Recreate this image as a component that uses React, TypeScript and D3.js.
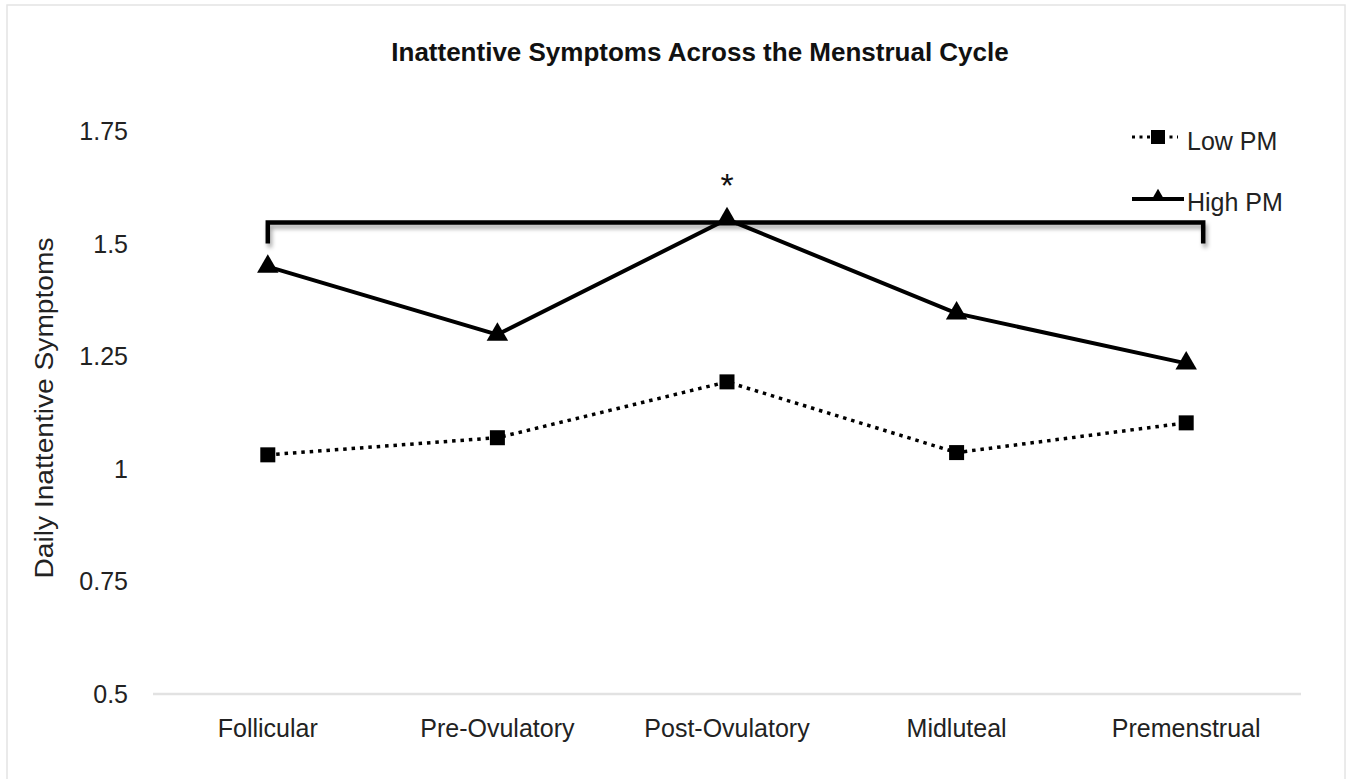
import React from "react";
import * as d3 from "d3";

const categories = ["Follicular", "Pre-Ovulatory", "Post-Ovulatory", "Midluteal", "Premenstrual"];
const lowPM = [1.031, 1.069, 1.193, 1.036, 1.102];
const highPM = [1.449, 1.298, 1.554, 1.345, 1.234];
const yTicks = [0.5, 0.75, 1, 1.25, 1.5, 1.75];
const yTickLabels = ["0.5", "0.75", "1", "1.25", "1.5", "1.75"];
const seriesNames = ["Low PM", "High PM"];
const bracketValue = 1.547;
const bracketDropValue = 1.5;
const title = "Inattentive Symptoms Across the Menstrual Cycle";
const yLabel = "Daily Inattentive Symptoms";

const W = 1353;
const H = 779;
const FONT = "'Liberation Sans', Arial, Helvetica, sans-serif";

export default function App() {
  const x = d3.scaleBand<string>().domain(categories).range([153, 1301]);
  const y = d3.scaleLinear().domain([0.5, 1.75]).range([694, 131]);
  const cx = (c: string) => (x(c) as number) + x.bandwidth() / 2;

  const line = d3
    .line<number>()
    .x((_, i) => cx(categories[i]))
    .y((v) => y(v));

  const tri = d3.symbol().type(d3.symbolTriangle).size(200)() as string;
  const triLegend = d3.symbol().type(d3.symbolTriangle).size(70)() as string;

  const bx0 = cx(categories[0]);
  const bx1 = cx(categories[categories.length - 1]) + 17;
  const by = y(bracketValue);
  const byd = y(bracketDropValue);
  const starX = cx(categories[2]);

  return (
    <svg
      width={W}
      height={H}
      style={{ position: "absolute", left: 0, top: 0, display: "block", background: "#fff" }}
      fontFamily={FONT}
    >
      <defs>
        <filter id="shadow" x="-5%" y="-50%" width="110%" height="250%">
          <feDropShadow dx="2" dy="4" stdDeviation="2.2" floodColor="#000" floodOpacity="0.35" />
        </filter>
      </defs>
      <rect x={7} y={5} width={1338} height={800} fill="#fff" stroke="#e4e4e4" strokeWidth={1.5} />

      <text x={700} y={61} textAnchor="middle" fontSize={26} fontWeight="bold" fill="#111">
        {title}
      </text>

      {/* y tick labels */}
      {yTicks.map((t, i) => (
        <text key={t} x={128} y={y(t)} dy="0.36em" textAnchor="end" fontSize={25} fill="#222">
          {yTickLabels[i]}
        </text>
      ))}

      {/* y axis label */}
      <text
        transform={`translate(52.5, ${408}) rotate(-90)`}
        textAnchor="middle"
        fontSize={26}
        textLength={341}
        lengthAdjust="spacingAndGlyphs"
        fill="#222"
      >
        {yLabel}
      </text>

      {/* baseline */}
      <line x1={153} x2={1301} y1={y(0.5)} y2={y(0.5)} stroke="#e2e2e2" strokeWidth={2.5} />

      {/* category labels */}
      {categories.map((c) => (
        <text key={c} x={cx(c)} y={737} textAnchor="middle" fontSize={25} fill="#222">
          {c}
        </text>
      ))}

      {/* bracket */}
      <path
        d={`M${bx0},${byd}V${by}H${bx1}V${byd}`}
        fill="none"
        stroke="#000"
        strokeWidth={4.5}
        filter="url(#shadow)"
      />
      <text x={starX} y={197} textAnchor="middle" fontSize={34} fill="#111">
        *
      </text>

      {/* Low PM series */}
      <path
        d={line(lowPM) as string}
        fill="none"
        stroke="#000"
        strokeWidth={3.5}
        strokeDasharray="3.5 4.9"
      />
      {lowPM.map((v, i) => (
        <rect key={i} x={cx(categories[i]) - 7.5} y={y(v) - 7.5} width={15} height={15} fill="#000" />
      ))}

      {/* High PM series */}
      <path d={line(highPM) as string} fill="none" stroke="#000" strokeWidth={4} />
      {highPM.map((v, i) => (
        <path key={i} d={tri} transform={`translate(${cx(categories[i])},${y(v)})`} fill="#000" />
      ))}

      {/* legend */}
      <line x1={1132} x2={1178} y1={137} y2={137} stroke="#000" strokeWidth={3} strokeDasharray="3 4.5" />
      <rect x={1151} y={130} width={14} height={14} fill="#000" />
      <text x={1187} y={150} fontSize={25} fill="#222">
        {seriesNames[0]}
      </text>
      <line x1={1132} x2={1184} y1={199} y2={199} stroke="#000" strokeWidth={4} />
      <path d={triLegend} transform="translate(1158,196)" fill="#000" />
      <text x={1187} y={211} fontSize={25} fill="#222">
        {seriesNames[1]}
      </text>
    </svg>
  );
}
